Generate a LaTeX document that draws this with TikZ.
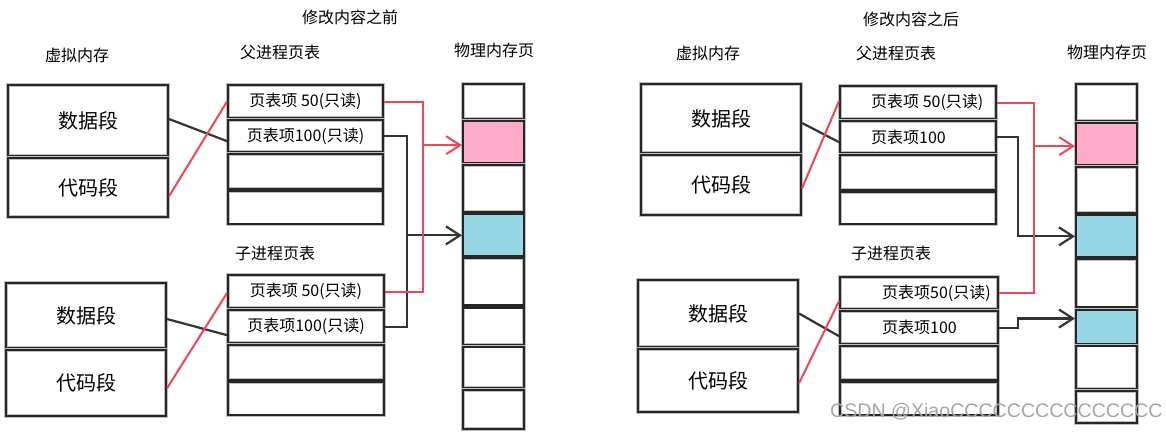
\documentclass[tikz,border=0pt]{standalone}
\usepackage{fontspec}
\setmainfont{Noto Sans CJK SC}
\newfontfamily\wmfont{Liberation Sans}
\usetikzlibrary{positioning, arrows.meta}
\definecolor{linkred}{RGB}{238,70,84}
\definecolor{pagepink}{RGB}{255,170,200}
\definecolor{pageblue}{RGB}{150,215,230}

\begin{document}
\begin{tikzpicture}[x=1pt, y=-1pt,
	every node/.style={font=\fontsize{16}{18}\selectfont},
	cell/.style={draw=black!85, line width=2.1pt, inner sep=0pt,
		preaction={draw=black!25, line width=3.6pt}},
	seg/.style={cell, minimum width=160, font=\fontsize{20}{22}\selectfont},
	entry/.style={cell, minimum width=156, minimum height=33},
	page/.style={cell, minimum width=61},
	redline/.style={draw=linkred, line width=2pt},
	blkline/.style={draw=black!80, line width=2.2pt},
	arr/.style={-{Straight Barb[length=14pt,width=18pt]}}]
	\useasboundingbox (0,0) rectangle (1166,435);

	\node (ltitle) at (350,17) {修改内容之前};
	\node (lvlabel) at (77,55) {虚拟内存};
	\node (lplabel) at (280,52) {父进程页表};
	\node (lmlabel) at (494,50) {物理内存页};
	\node (lclabel) at (275,253) {子进程页表};

	\node[seg, anchor=north west, minimum height=71] (ldata) at (7,84) {数据段};
	\node[seg, below=0pt of ldata, minimum height=59] (lcode) {代码段};
	\node[seg, anchor=north west, minimum height=65] (ldata2) at (5,282) {数据段};
	\node[seg, below=0pt of ldata2, minimum height=66] (lcode2) {代码段};

	\node[entry, anchor=north west, minimum width=155] (lp1) at (227,84) {页表项 50(只读)};
	\node[entry, below=0pt of lp1, minimum width=155, minimum height=32] (lp2) {页表项100(只读)};
	\node[entry, below=0pt of lp2, minimum width=155, minimum height=35] (lp3) {};
	\node[entry, below=0pt of lp3, minimum width=155] (lp4) {};

	\node[entry, anchor=north west] (lc1) at (227,274) {页表项 50(只读)};
	\node[entry, below=0pt of lc1] (lc2) {页表项100(只读)};
	\node[entry, below=0pt of lc2, minimum height=35] (lc3) {};
	\node[entry, below=0pt of lc3] (lc4) {};

	\node[page, anchor=north west, minimum height=35] (lm1) at (462,83) {};
	\node[page, below=0pt of lm1, minimum height=42, fill=pagepink] (lpink) {};
	\node[page, below=0pt of lpink, minimum height=47] (lm3) {};
	\node[page, below=0pt of lm3, minimum height=42, fill=pageblue] (lb1) {};
	\node[page, below=0pt of lb1, minimum height=47] (lm5) {};
	\node[page, below=0pt of lm5, minimum height=37] (lm6) {};
	\node[page, below=0pt of lm6, minimum height=41] (lm7) {};
	\node[page, below=0pt of lm7, minimum height=39] (lm8) {};

	\coordinate (lbusk) at (407,0);
	\coordinate (lbusr) at (423,0);
	\draw[blkline] ([yshift=1.5]ldata.east) -- ([yshift=-5]lp2.west);
	\draw[redline] ([yshift=-8.5]lcode.east) -- (lp1.west);
	\draw[blkline] ([yshift=-3.5]ldata2.east) -- ([yshift=-8.5]lc2.west);
	\draw[redline] ([yshift=-5]lcode2.east) -- ([yshift=-1.5]lc1.west);
	\draw[blkline] (lp2.east) -| (lbusk |- lc2.east) -- (lc2.east);
	\draw[blkline, arr] (lbusk |- lb1.west) -- (lb1.west);
	\draw[redline] (lp1.east) -| (lbusr |- lc1.east) -- (lc1.east);
	\coordinate (lpinkin) at ([yshift=-3]lpink.west);
	\draw[redline, arr] (lbusr |- lpinkin) -- (lpinkin);

	\node (rtitle) at (911,19) {修改内容之后};
	\node (rvlabel) at (708,53) {虚拟内存};
	\node (rplabel) at (896,53) {父进程页表};
	\node (rmlabel) at (1107,52) {物理内存页};
	\node (rclabel) at (891,253) {子进程页表};

	\node[seg, anchor=north west, minimum height=69] (rdata) at (640,83) {数据段};
	\node[seg, below=0pt of rdata, minimum height=60] (rcode) {代码段};
	\node[seg, anchor=north west, minimum height=67] (rdata2) at (637,279) {数据段};
	\node[seg, below=0pt of rdata2, minimum height=63] (rcode2) {代码段};

	\node[entry, anchor=north west] (rp1) at (839,85) {};
	\node[entry, below=0pt of rp1, minimum height=32] (rp2) {};
	\node[entry, below=0pt of rp2, minimum height=35] (rp3) {};
	\node[entry, below=0pt of rp3, minimum height=32] (rp4) {};
	\node[anchor=west, inner sep=0pt] (rp1t) at ([xshift=32]rp1.west) {页表项 50(只读)};
	\node[anchor=west, inner sep=0pt] (rp2t) at ([xshift=32]rp2.west) {页表项100};

	\node[entry, anchor=north west, minimum width=158, minimum height=32] (rc1) at (839,276) {};
	\node[entry, below=0pt of rc1, minimum width=158] (rc2) {};
	\node[entry, below=0pt of rc2, minimum width=158, minimum height=34] (rc3) {};
	\node[entry, below=0pt of rc3, minimum width=158] (rc4) {};
	\node[anchor=west, inner sep=0pt] (rc1t) at ([xshift=43]rc1.west) {页表项50(只读)};
	\node[anchor=west, inner sep=0pt] (rc2t) at ([xshift=43]rc2.west) {页表项100};

	\node[page, anchor=north west, minimum height=37] (rm1) at (1075,83) {};
	\node[page, below=0pt of rm1, minimum height=42, fill=pagepink] (rpink) {};
	\node[page, below=0pt of rpink, minimum height=46] (rm3) {};
	\node[page, below=0pt of rm3, minimum height=42, fill=pageblue] (rb1) {};
	\node[page, below=0pt of rb1, minimum height=48] (rm5) {};
	\node[page, below=0pt of rm5, minimum height=34, fill=pageblue] (rb2) {};
	\node[page, below=0pt of rb2, minimum height=43] (rm7) {};
	\node[page, below=0pt of rm7, minimum height=32] (rm8) {};

	\coordinate (rbusk) at (1018,0);
	\coordinate (rbusr) at (1034,0);
	\coordinate (rb2in) at ([yshift=8]rb2.west);
	\coordinate (rpinkin) at ([yshift=-2]rpink.west);
	\draw[blkline] ([yshift=-4.5]rdata.east) -- ([yshift=-5]rp2.west);
	\draw[redline] ([yshift=-3]rcode.east) -- ([yshift=1.5]rp1.west);
	\draw[blkline] (rdata2.east) -- ([yshift=-8.5]rc2.west);
	\draw[redline] ([yshift=-2.5]rcode2.east) -- ([yshift=-8]rc1.west);
	\draw[blkline, arr] (rp2.east) -| (rbusk |- rb1.west) -- (rb1.west);
	\draw[blkline, arr] (rc2.east) -| (rbusk |- rb2in) -- (rb2in);
	\draw[redline] (rp1.east) -| (rbusr |- rc1.east) -- (rc1.east);
	\draw[redline, arr] (rbusr |- rpinkin) -- (rpinkin);

	\node[anchor=west, inner sep=0pt, text=black!35, font=\wmfont\fontsize{19.6}{21}\selectfont] (mark) at (830,412) {CSDN @XiaoCCCCCCCCCCCCCCC};
\end{tikzpicture}
\end{document}
